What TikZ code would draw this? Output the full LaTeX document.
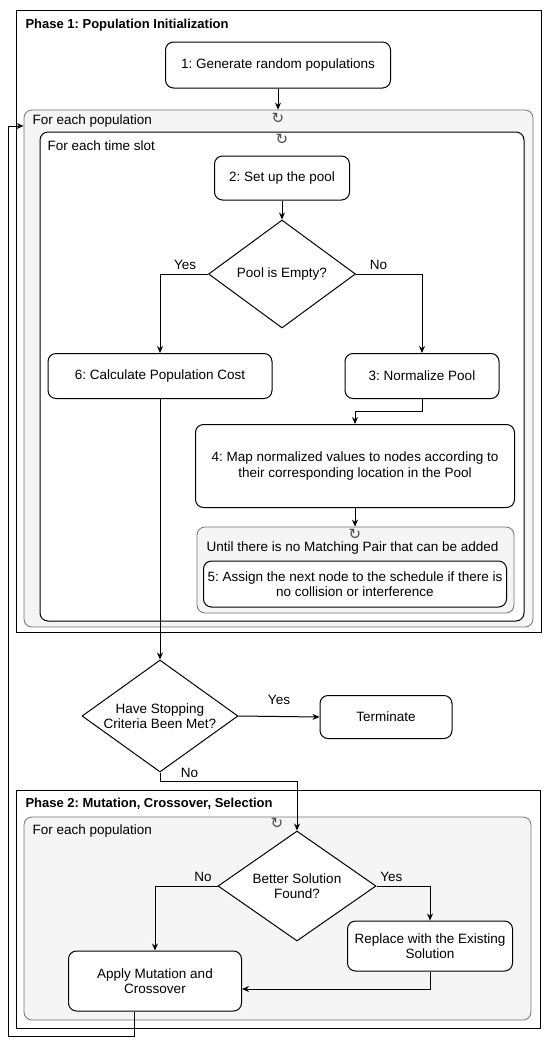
\documentclass[tikz,border=0pt]{standalone}
\usepackage{fontspec}
\setmainfont{Liberation Sans}
\newfontfamily\symfont{DejaVu Sans}
\usepackage{tikz}
\usetikzlibrary{shapes.geometric, arrows.meta}
\frenchspacing

\tikzset{
    every node/.style = {font=\fontsize{13.5}{15.5}\selectfont},
    proc/.style       = {draw, rounded corners=8pt, line width=1pt, fill=white, align=center, inner sep=0},
    decision/.style   = {draw, diamond, line width=1pt, fill=white, align=center, inner sep=0},
    group/.style      = {draw=black!55, rounded corners=8pt, line width=0.8pt, fill=black!4, inner sep=0},
    slotgroup/.style  = {draw, rounded corners=8pt, line width=1pt, fill=white, inner sep=0},
    phase/.style      = {draw, line width=1pt},
    title/.style      = {anchor=west, font=\fontsize{13}{15}\selectfont\bfseries},
    lbl/.style        = {anchor=west},
    loopmark/.style   = {font=\symfont\fontsize{15}{15}\selectfont, text=black!70, inner sep=0},
    flow/.style       = {-{Stealth[length=7pt, width=6pt]}, line width=1pt},
}

\begin{document}
\begin{tikzpicture}[x=1pt, y=-1pt]
    \useasboundingbox (0,0) rectangle (550,1042);

    % Fase 1
    \draw[phase] (16,10) rectangle (541,632);
    \node (ph1) at (22,25)[title] {Phase 1: Population Initialization};
    \node (b1) at (278,65)[proc, minimum width=225, minimum height=46] {1: Generate random populations};

    % Para cada poblacion / cada intervalo
    \node (pop1) at (278.5,368.5)[group, minimum width=509, minimum height=517] {};
    \node (lp1) at (278,118)[loopmark] {↻};
    \node (fp1) at (29,121)[lbl] {For each population};
    \node (slot) at (282,376.5)[slotgroup, minimum width=484, minimum height=489] {};
    \node (lp2) at (282,139)[loopmark] {↻};
    \node (fts) at (44,146)[lbl] {For each time slot};

    \node (b2) at (282,178)[proc, minimum width=135, minimum height=44] {2: Set up the pool};
    \node (d1) at (282,274)[decision, minimum width=147, minimum height=108, aspect=1.36] {Pool is Empty?};
    \node (b6) at (160,376)[proc, minimum width=224, minimum height=45] {6: Calculate Population Cost};
    \node (b3) at (422,376)[proc, minimum width=154, minimum height=45] {3: Normalize Pool};
    \node (b4) at (355,466)[proc, minimum width=319, minimum height=83] {4: Map normalized values to nodes according to\\their corresponding location in the Pool};

    % Hasta que no haya pareja
    \node (until) at (355.5,570)[group, minimum width=317, minimum height=86] {};
    \node (lp3) at (355,534)[loopmark] {↻};
    \node (unt) at (203,548)[lbl] {Until there is no Matching Pair that can be added};
    \node (b5) at (355,584)[proc, minimum width=303, minimum height=46] {5: Assign the next node to the schedule if there is\\no collision or interference};

    % Criterio de parada
    \node (d2) at (160,716)[decision, minimum width=156, minimum height=112, aspect=1.39] {Have Stopping\\Criteria Been Met?};
    \node (term) at (386,717)[proc, minimum width=132, minimum height=43] {Terminate};

    % Fase 2
    \draw[phase] (16,790) rectangle (540,1028);
    \node (ph2) at (22,804)[title] {Phase 2: Mutation, Crossover, Selection};
    \node (pop2) at (277.5,918.5)[group, minimum width=507, minimum height=203] {};
    \node (lp4) at (277,823)[loopmark] {↻};
    \node (fp2) at (29,831)[lbl] {For each population};
    \node (d3) at (297,886)[decision, minimum width=158, minimum height=110, aspect=1.44] {Better Solution\\Found?};
    \node (rep) at (430,946)[proc, minimum width=165, minimum height=50] {Replace with the Existing\\Solution};
    \node (apply) at (155,981)[proc, minimum width=173, minimum height=60] {Apply Mutation and\\Crossover};

    % Flechas
    \draw[flow] (b1.south) -- (pop1.north -| b1.south);
    \draw[flow] (b2.south) -- (d1.north);
    \draw[flow] (d1.west) -| node[pos=0, anchor=south east, xshift=-8pt, yshift=1pt] {Yes} (b6.north);
    \draw[flow] (d1.east) -| node[pos=0, anchor=south west, xshift=10pt, yshift=1pt] {No} (b3.north);
    \draw[flow] (b3.south) -- ++(0,12) -| (b4.north);
    \draw[flow] (b4.south) -- (until.north -| b4.south);
    \draw[flow] (b6.south) -- (d2.north);
    \draw[flow] (d2.east) -- node[above=8pt] {Yes} (term.west);
    \draw[flow] (d2.south) -- node[pos=0.1, anchor=west, xshift=17pt] {No} ++(0,9) -| (d3.north);
    \draw[flow] (d3.west) -| node[pos=0, anchor=south east, xshift=-2pt, yshift=1pt] {No} (apply.north);
    \draw[flow] (d3.east) -| node[pos=0, anchor=south west, xshift=0pt, yshift=1pt] {Yes} (rep.north);
    \draw[flow] (rep.south) |- ([yshift=-8pt]apply.east);

    % Vuelta a la fase 1
    \coordinate (fbl) at (8,1036);
    \coordinate (fbt) at (8,126);
    \draw[flow] ([xshift=-21pt]apply.south) |- (fbl) -- (fbt) -- (fbt -| pop1.west);
\end{tikzpicture}
\end{document}
